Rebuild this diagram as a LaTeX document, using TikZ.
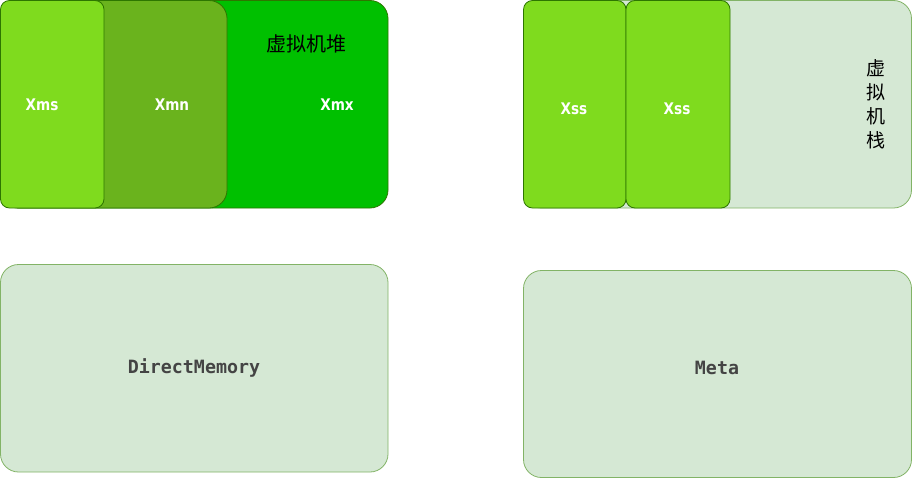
\documentclass[tikz,border=0pt]{standalone}
\usepackage{fontspec}
\setmainfont{DejaVu Sans}
\newfontfamily\cjk{Noto Sans CJK SC}
\newfontfamily\monob{DejaVu Sans Mono}
\definecolor{heapG}{RGB}{0,192,0}
\definecolor{newG}{RGB}{106,179,29}
\definecolor{lightG}{RGB}{127,219,30}
\definecolor{darkS}{RGB}{45,118,0}
\definecolor{paleG}{RGB}{213,232,212}
\definecolor{paleS}{RGB}{130,179,102}
\definecolor{txtG}{RGB}{68,68,68}
\newcommand{\narrowtxt}[1]{\scalebox{0.85}[1]{#1}}
\tikzset{
  box/.style={draw, line width=0.8pt, inner sep=0pt, outer sep=0pt},
  bigr/.style={rounded corners=18pt},
  smallr/.style={rounded corners=9pt},
  wlabel/.style={text=white, font=\bfseries\fontsize{16}{18}\selectfont, inner sep=0pt},
  mlabel/.style={text=txtG, font=\monob\bfseries\fontsize{18.3}{20}\selectfont, inner sep=0pt},
  clabel/.style={text=black, font=\cjk\fontsize{20}{22}\selectfont, inner sep=0pt},
}
\begin{document}
\begin{tikzpicture}[x=1pt,y=-1pt]
\useasboundingbox (0,0) rectangle (912,479);
% heap
\draw[box, bigr, fill=heapG, draw=darkS] (0.5,0.5) rectangle (388,208) node[pos=0.5] (heap) {};
\draw[box, bigr, fill=newG, draw=darkS] (0.5,0.5) rectangle (227,208) node[pos=0.5] (xmnbox) {};
\draw[box, smallr, fill=lightG, draw=darkS] (0.5,0.5) rectangle (104,208) node[pos=0.5] (xmsbox) {};
\node[wlabel] (xms) at (42,105) {\narrowtxt{Xms}};
\node[wlabel] (xmn) at (172,105) {\narrowtxt{Xmn}};
\node[wlabel] (xmx) at (337,105) {\narrowtxt{Xmx}};
\node[clabel] (heaplbl) at (306,44) {虚拟机堆};
% stack
\draw[box, bigr, fill=paleG, draw=paleS] (523.5,0.5) rectangle (911.5,208) node[pos=0.5] (stack) {};
\draw[box, smallr, fill=lightG, draw=darkS] (523.5,0.5) rectangle (626,208) node[pos=0.5] (xss1box) {};
\draw[box, smallr, fill=lightG, draw=darkS] (626,0.5) rectangle (730,208) node[pos=0.5] (xss2box) {};
\node[wlabel] (xss1) at (574,109) {\narrowtxt{Xss}};
\node[wlabel] (xss2) at (677,109) {\narrowtxt{Xss}};
\node[clabel, align=center, font=\cjk\fontsize{19}{24}\selectfont] (stacklbl) at (876,104) {虚\\拟\\机\\栈};
% bottom
\draw[box, bigr, fill=paleG, draw=paleS] (0.5,264.5) rectangle (388,472) node[pos=0.5] (dmbox) {};
\node[mlabel] (dm) at (194,368) {DirectMemory};
\draw[box, bigr, fill=paleG, draw=paleS] (523.5,270.5) rectangle (911.5,477.5) node[pos=0.5] (metabox) {};
\node[mlabel] (meta) at (717,368) {Meta};
\end{tikzpicture}
\end{document}
